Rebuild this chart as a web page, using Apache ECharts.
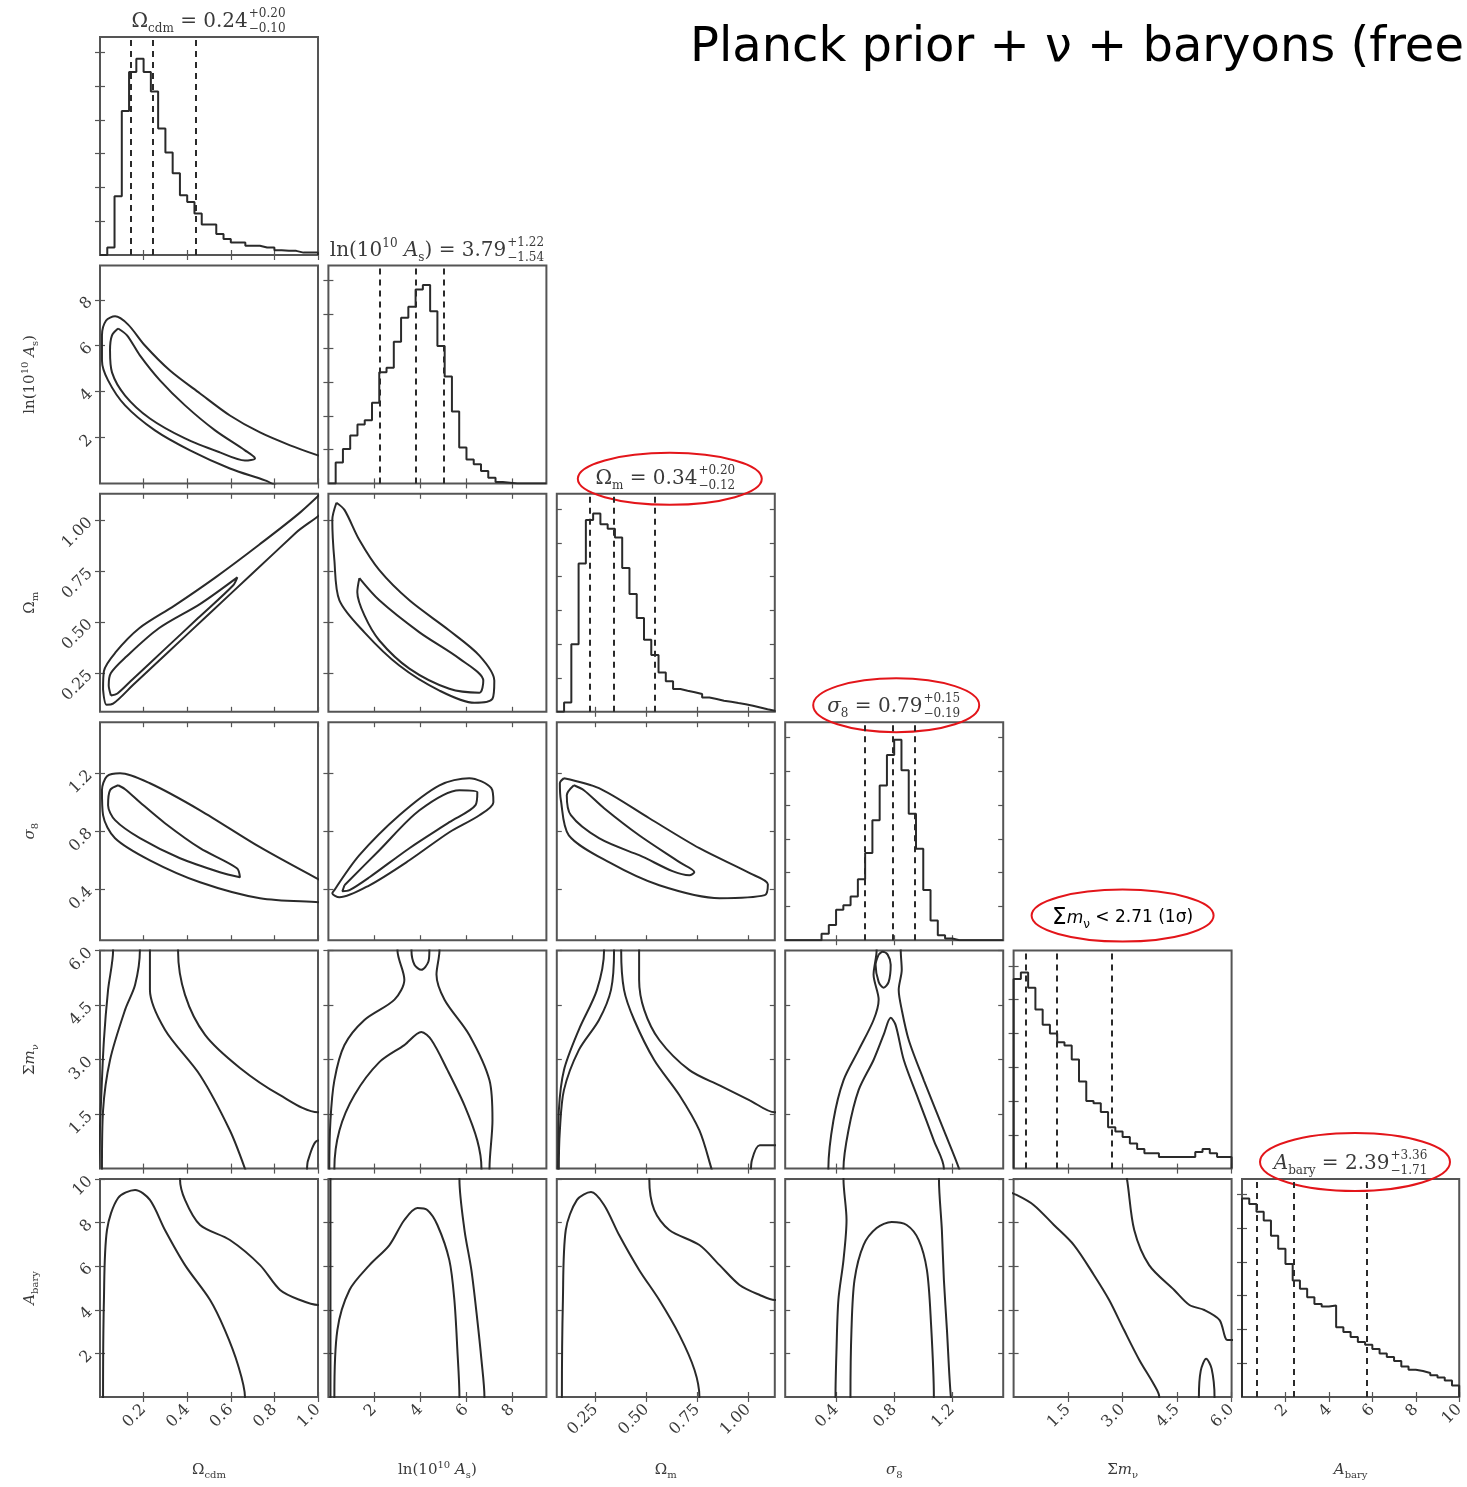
<!DOCTYPE html>
<html>
<head>
<meta charset="utf-8">
<script src="https://cdn.jsdelivr.net/npm/echarts@6/dist/echarts.min.js"></script>
<style>
  html, body { margin: 0; padding: 0; background: #fff; }
  #chart { width: 1467px; height: 1487px; }
</style>
</head>
<body>
<div id="chart"></div>
<script>
// ---------- parameters, axis ranges and ticks ----------
const axisNames = [
  '{a|Ω}{s|cdm}',
  '{a|ln(10}{p|10}{i| A}{s|s}{a|)}',
  '{a|Ω}{s|m}',
  '{i|σ}{s|8}',
  '{a|Σ}{i|m}{s|ν}',
  '{i|A}{s|bary}'
];
const axisMin = [0, 0, 0.06, 0.05, 0, 0];
const axisMax = [1.0, 9.5, 1.13, 1.55, 6.0, 10];
const tickValues = [
  [0.2, 0.4, 0.6, 0.8, 1.0],
  [2, 4, 6, 8],
  [0.25, 0.5, 0.75, 1.0],
  [0.4, 0.8, 1.2],
  [1.5, 3.0, 4.5, 6.0],
  [2, 4, 6, 8, 10]
];
const tickLabels = [
  ['0.2', '0.4', '0.6', '0.8', '1.0'],
  ['2', '4', '6', '8'],
  ['0.25', '0.50', '0.75', '1.00'],
  ['0.4', '0.8', '1.2'],
  ['1.5', '3.0', '4.5', '6.0'],
  ['2', '4', '6', '8', '10']
];
const histTickValues = [15.5, 31, 46.5, 62, 77.5, 93];

// ---------- 1D marginal histograms (30 bins across each axis range) ----------
const histOmegaCdm = [0, 3.4, 27, 66, 84, 90, 84, 75, 58, 47, 37.5, 27.4, 24.3, 19, 14, 14, 9.6, 7.3, 5.7, 5.7, 4.2, 4.2, 3.4, 3.4, 2.2, 1.9, 1.9, 1.1, 1.1, 1.1];
const histLnAs = [0, 9.6, 15.8, 22, 27, 29, 37, 51, 53, 65, 76, 81, 89, 91, 79, 63, 49, 33, 16.5, 11, 8.8, 5.7, 2.6, 0.6, 0.3, 0, 0, 0, 0, 0];
const histOmegaM = [0, 4.3, 31, 68, 88, 91, 86, 84, 80, 66, 54, 43, 33, 26, 18, 14, 10.5, 9.7, 9, 8.2, 6.6, 5.9, 5.1, 4.6, 4, 3.5, 2.8, 2, 1.2, 0.5];
const histSigma8 = [0, 0, 0, 0, 0, 3, 7, 14, 16, 20, 28, 40, 55, 71, 85, 92, 78, 58, 42, 23, 9, 2.3, 0.8, 0, 0, 0, 0, 0, 0, 0];
const histMnu = [87, 90, 83, 73, 66, 62, 58, 56.5, 50, 40, 31, 30, 26, 19, 17, 14.5, 11.5, 9, 7, 7, 5.3, 5.3, 5.3, 5.3, 5.3, 7.6, 9, 7, 5.3, 5.3];
const histAbary = [91, 88.5, 85, 81, 74, 68, 61, 53.4, 49.6, 45.8, 42.7, 41.5, 42, 32, 29.8, 27.5, 25.2, 24, 22, 20, 18.3, 16.5, 14, 12.5, 11.9, 11, 10, 8.9, 7.6, 5.3];
const histograms = [histOmegaCdm, histLnAs, histOmegaM, histSigma8, histMnu, histAbary];

// 16th / 50th / 84th percentiles
const quantOmegaCdm = [0.14, 0.24, 0.44];
const quantLnAs = [2.25, 3.79, 5.01];
const quantOmegaM = [0.22, 0.34, 0.54];
const quantSigma8 = [0.60, 0.79, 0.94];
const quantMnu = [0.34, 1.20, 2.71];
const quantAbary = [0.68, 2.39, 5.75];
const quantiles = [quantOmegaCdm, quantLnAs, quantOmegaM, quantSigma8, quantMnu, quantAbary];

// ---------- 2D credible contours (1σ inner, 2σ outer), in parameter units ----------
const c10Outer = [[1.0,1.22],[0.872,1.66],[0.734,2.22],[0.596,2.96],[0.459,3.92],[0.321,4.92],[0.206,6.01],[0.128,6.93],[0.069,7.28],[0.028,7.10],[0.009,6.45],[0.009,5.36],[0.037,4.49],[0.115,3.40],[0.252,2.31],[0.413,1.44],[0.596,0.65],[0.757,0.13],[0.872,-0.3],[1.1,-0.3],[1.1,1.1]];
const c10Inner = [[0.083,6.75],[0.055,6.45],[0.046,5.80],[0.055,4.84],[0.115,3.83],[0.229,2.83],[0.390,1.96],[0.550,1.35],[0.665,1.00],[0.711,1.09],[0.665,1.44],[0.528,2.31],[0.390,3.40],[0.275,4.49],[0.183,5.58],[0.124,6.45]];

const c20Outer = [[0.014,0.17],[0.018,0.26],[0.07,0.35],[0.18,0.47],[0.34,0.58],[0.53,0.72],[0.73,0.88],[0.92,1.04],[1.05,1.17],[1.05,1.09],[0.9,0.94],[0.7,0.74],[0.5,0.54],[0.3,0.34],[0.15,0.19],[0.06,0.10],[0.03,0.095]];
const c20Inner = [[0.05,0.14],[0.04,0.19],[0.05,0.25],[0.12,0.33],[0.27,0.47],[0.46,0.59],[0.63,0.72],[0.61,0.68],[0.45,0.52],[0.3,0.37],[0.15,0.22],[0.08,0.15]];

const c21Outer = [[0.35,1.086],[0.70,1.051],[1.35,0.903],[2.22,0.755],[3.53,0.607],[5.27,0.459],[6.58,0.336],[7.23,0.213],[7.15,0.124],[6.36,0.104],[4.84,0.164],[3.09,0.287],[1.57,0.450],[0.48,0.607],[0.26,0.805],[0.17,1.002]];
const c21Inner = [[1.35,0.716],[2.22,0.607],[3.97,0.450],[5.71,0.321],[6.75,0.213],[6.58,0.154],[5.27,0.173],[3.53,0.272],[2.22,0.410],[1.57,0.533],[1.26,0.647]];

const c30Outer = [[1.01,0.463],[0.734,0.690],[0.459,0.944],[0.229,1.130],[0.092,1.199],[0.032,1.178],[0.009,1.082],[0.014,0.910],[0.069,0.752],[0.229,0.600],[0.459,0.449],[0.734,0.339],[1.01,0.311],[1.1,0.3],[1.1,0.47]];
const c30Inner = [[0.083,1.116],[0.046,1.082],[0.037,0.979],[0.069,0.876],[0.183,0.752],[0.367,0.614],[0.550,0.518],[0.642,0.483],[0.628,0.545],[0.459,0.683],[0.298,0.855],[0.183,0.999],[0.115,1.089]];

const c31Outer = [[0.26,0.394],[1.35,0.635],[3.09,0.910],[4.84,1.116],[6.14,1.165],[7.10,1.096],[7.19,1.000],[6.58,0.910],[5.27,0.793],[3.53,0.600],[1.79,0.428],[0.48,0.346],[0.17,0.373]];
const c31Inner = [[0.70,0.428],[2.22,0.669],[3.97,0.944],[5.71,1.082],[6.49,1.068],[6.41,0.979],[5.27,0.862],[3.53,0.683],[1.79,0.483],[0.92,0.394],[0.61,0.387]];

const c32Outer = [[0.095,1.165],[0.267,1.096],[0.514,0.889],[0.760,0.683],[1.007,0.511],[1.096,0.435],[1.081,0.360],[0.859,0.339],[0.563,0.428],[0.316,0.587],[0.119,0.772],[0.080,1.013],[0.075,1.130]];
const c32Inner = [[0.144,1.116],[0.109,1.048],[0.129,0.910],[0.267,0.752],[0.464,0.635],[0.711,0.497],[0.735,0.518],[0.662,0.587],[0.464,0.772],[0.292,0.958],[0.193,1.082]];

const c40Outer = [[0.06,6.3],[0.06,6.0],[0.037,4.92],[0.018,3.54],[0.005,1.88],[-0.01,-0.3],[0.94,-0.3],[0.954,0.22],[1.0,0.77],[1.06,0.77],[1.06,1.55],[1.0,1.55],[0.826,2.02],[0.642,2.77],[0.482,3.68],[0.390,4.78],[0.358,6.0],[0.358,6.3]];
const c40Inner = [[0.183,6.3],[0.183,6.0],[0.161,5.06],[0.115,4.37],[0.046,2.99],[0.014,1.60],[0.009,0],[0.009,-0.33],[0.679,-0.33],[0.665,0],[0.596,1.05],[0.459,2.57],[0.298,3.82],[0.229,4.92],[0.229,6.0],[0.229,6.3]];

const c41Outer = [[3.01,6.3],[3.01,6.0],[3.31,5.20],[2.88,4.65],[1.57,4.09],[0.70,3.40],[0.26,2.43],[0.09,1.33],[0.04,0],[0.04,-0.33],[7.02,-0.33],[7.02,0],[7.15,1.33],[7.02,2.43],[6.14,3.68],[5.06,4.65],[4.71,5.34],[4.84,6.0],[4.84,6.3]];
const c41Island = [[3.62,6.3],[3.62,6.0],[3.75,5.61],[4.05,5.47],[4.36,5.70],[4.40,6.0],[4.40,6.3]];
const c41Inner = [[0.26,-0.33],[0.26,0],[0.48,1.05],[1.13,2.02],[2.22,2.93],[3.31,3.40],[4.05,3.76],[4.49,3.54],[5.19,2.71],[5.93,1.74],[6.49,0.77],[6.67,0],[6.67,-0.33]];

const c42Outer = [[0.292,6.3],[0.292,6.0],[0.257,4.92],[0.168,3.82],[0.095,2.71],[0.070,1.60],[0.065,0],[0.055,-0.33],[1.007,-0.33],[1.017,0.22],[1.056,0.64],[1.155,0.64],[1.155,1.55],[1.130,1.55],[1.007,1.88],[0.859,2.29],[0.711,2.71],[0.563,3.54],[0.489,4.37],[0.464,5.20],[0.464,6.0],[0.464,6.3]];
const c42Inner = [[0.341,6.3],[0.341,6.0],[0.326,4.92],[0.267,4.09],[0.168,3.26],[0.095,2.16],[0.075,1.05],[0.070,0],[0.070,-0.33],[0.834,-0.33],[0.819,0],[0.760,1.05],[0.662,2.02],[0.538,2.99],[0.440,4.09],[0.390,4.92],[0.376,6.0],[0.376,6.3]];

const c43Outer = [[0.679,6.3],[0.679,6.0],[0.658,5.34],[0.693,4.65],[0.658,4.09],[0.555,3.26],[0.451,2.43],[0.382,1.33],[0.347,0],[0.347,-0.33],[1.260,-0.33],[1.246,0],[1.142,1.05],[1.004,2.43],[0.900,3.54],[0.852,4.37],[0.831,4.92],[0.852,5.47],[0.845,6.0],[0.845,6.3]];
const c43Island = [[0.693,5.89],[0.672,5.61],[0.693,5.14],[0.727,4.98],[0.762,5.14],[0.776,5.61],[0.755,5.89],[0.720,5.97]];
const c43Inner = [[0.451,-0.33],[0.451,0],[0.485,1.05],[0.555,2.16],[0.658,2.99],[0.727,3.68],[0.776,4.15],[0.810,3.95],[0.866,2.99],[0.969,1.88],[1.073,0.77],[1.142,0],[1.142,-0.33]];

const c50Outer = [[-0.023,10.41],[0.367,10.41],[0.367,10.0],[0.390,9.04],[0.459,7.89],[0.596,7.20],[0.734,6.05],[0.826,4.91],[0.917,4.45],[1.0,4.22],[1.055,4.22],[1.055,-0.6],[-0.023,-0.6]];
const c50Inner = [[0.014,-0.6],[0.014,0],[0.018,4.45],[0.032,7.66],[0.083,9.13],[0.161,9.50],[0.229,9.04],[0.298,7.66],[0.390,6.05],[0.505,4.45],[0.573,3.07],[0.633,1.47],[0.665,0],[0.665,-0.6]];

const c51Outer = [[0.09,10.41],[5.71,10.41],[5.71,10.0],[5.93,7.66],[6.23,5.83],[6.49,3.53],[6.67,1.70],[6.80,0],[6.80,-0.6],[0.09,-0.6]];
const c51Inner = [[0.26,-0.6],[0.26,0],[0.39,3.07],[0.92,4.91],[1.79,6.05],[2.66,6.97],[3.31,8.12],[3.88,8.67],[4.31,8.58],[4.75,7.89],[5.27,6.28],[5.49,4.45],[5.62,2.16],[5.71,0],[5.71,-0.6]];

const c52Outer = [[0.045,10.41],[0.514,10.41],[0.514,10.0],[0.538,8.58],[0.612,7.66],[0.760,6.97],[0.859,6.05],[0.957,5.14],[1.056,4.68],[1.130,4.45],[1.204,4.45],[1.204,-0.6],[0.045,-0.6]];
const c52Inner = [[0.085,-0.6],[0.085,0],[0.090,4.45],[0.104,7.66],[0.159,9.04],[0.228,9.40],[0.292,8.81],[0.366,7.43],[0.464,5.83],[0.563,4.45],[0.662,2.84],[0.736,1.24],[0.760,0],[0.760,-0.6]];

const c53Outer = [[0.451,10.41],[0.451,10.0],[0.472,8.12],[0.451,6.28],[0.416,4.45],[0.403,2.16],[0.396,0],[0.396,-0.6],[1.211,-0.6],[1.190,0],[1.163,3.07],[1.142,5.37],[1.128,7.66],[1.108,10.0],[1.108,10.41]];
const c53Inner = [[0.499,-0.6],[0.499,0],[0.506,3.07],[0.527,5.37],[0.589,6.97],[0.679,7.75],[0.783,8.03],[0.886,7.89],[0.969,7.20],[1.025,5.83],[1.052,3.53],[1.073,0],[1.073,-0.6]];

const c54Outer = [[-0.28,10.41],[3.04,10.41],[3.12,10.0],[3.32,7.66],[3.73,6.05],[4.42,4.91],[4.84,4.22],[5.25,3.99],[5.67,3.53],[5.89,2.61],[6.22,2.61],[6.22,-0.6],[-0.28,-0.6]];
const c54Island = [[5.10,-0.6],[5.10,0],[5.15,1.2],[5.30,1.75],[5.45,1.3],[5.53,0],[5.53,-0.6]];
const c54Inner = [[-0.28,9.50],[0.08,9.27],[0.55,8.81],[1.11,7.89],[1.66,6.97],[2.21,5.60],[2.63,4.45],[3.04,3.07],[3.46,1.70],[3.87,0.55],[4.01,0],[4.01,-0.6],[-0.28,-0.6]];

const contours = {
  '1-0': [c10Outer, c10Inner],
  '2-0': [c20Outer, c20Inner],
  '2-1': [c21Outer, c21Inner],
  '3-0': [c30Outer, c30Inner],
  '3-1': [c31Outer, c31Inner],
  '3-2': [c32Outer, c32Inner],
  '4-0': [c40Outer, c40Inner],
  '4-1': [c41Outer, c41Island, c41Inner],
  '4-2': [c42Outer, c42Inner],
  '4-3': [c43Outer, c43Island, c43Inner],
  '5-0': [c50Outer, c50Inner],
  '5-1': [c51Outer, c51Inner],
  '5-2': [c52Outer, c52Inner],
  '5-3': [c53Outer, c53Inner],
  '5-4': [c54Outer, c54Island, c54Inner]
};

// ---------- panel titles ----------
const diagTitles = [
  { parts: [['Ω', 'n'], ['cdm', 'b'], [' = 0.24', 'n']], up: '+0.20', lo: '−0.10' },
  { parts: [['ln(10', 'n'], ['10', 't'], [' ', 'n'], ['A', 'i'], ['s', 'b'], [') = 3.79', 'n']], up: '+1.22', lo: '−1.54' },
  { parts: [['Ω', 'n'], ['m', 'b'], [' = 0.34', 'n']], up: '+0.20', lo: '−0.12' },
  { parts: [['σ', 'i'], ['8', 'b'], [' = 0.79', 'n']], up: '+0.15', lo: '−0.19' },
  { parts: [['Σ', 'S'], ['m', 'I'], ['ν', 'B'], [' < 2.71 (1σ)', 'N']], up: null, lo: null },
  { parts: [['A', 'i'], ['bary', 'b'], [' = 2.39', 'n']], up: '+3.36', lo: '−1.71' }
];
const mainTitle = 'Planck prior + ν + baryons (free';

// ---------- layout and styles ----------
const LEFT0 = 100, TOP0 = 37, STEP = 228.4, SIZE = 218;
const SERIF = '"DejaVu Serif", serif';
const SANS = '"DejaVu Sans", sans-serif';
const INK = '#2a2a2a';
const TEXT = '#3a3a3a';
const FRAME = '#555';

const tokenStyle = {
  n: { family: SERIF, size: 20, italic: false, dy: 0, color: TEXT },
  i: { family: SERIF, size: 20, italic: true, dy: 0, color: TEXT },
  b: { family: SERIF, size: 12, italic: false, dy: 7, color: TEXT },
  t: { family: SERIF, size: 12, italic: false, dy: -7, color: TEXT },
  N: { family: SANS, size: 17, italic: false, dy: 0, color: '#000' },
  S: { family: SANS, size: 23, italic: false, dy: 0, color: '#000' },
  I: { family: SANS, size: 17, italic: true, dy: 1, color: '#000' },
  B: { family: SANS, size: 12, italic: false, dy: 7, color: '#000' }
};
const scriptStyle = { family: SERIF, size: 12, color: TEXT, upDy: -8, loDy: 7 };

const richName = {
  a: { fontFamily: SERIF, fontSize: 15, color: TEXT, lineHeight: 20 },
  i: { fontFamily: SERIF, fontSize: 15, fontStyle: 'italic', color: TEXT, lineHeight: 20 },
  s: { fontFamily: SERIF, fontSize: 10, color: TEXT, verticalAlign: 'bottom', lineHeight: 12 },
  p: { fontFamily: SERIF, fontSize: 10, color: TEXT, verticalAlign: 'top', lineHeight: 12 }
};

const measureCtx = document.createElement('canvas').getContext('2d');
function fontOf(st) {
  return (st.italic ? 'italic ' : '') + st.size + 'px ' + st.family;
}
function textWidth(text, st) {
  measureCtx.font = fontOf(st);
  return measureCtx.measureText(text).width;
}

function tickFormatter(p) {
  return function (v) {
    const idx = tickValues[p].findIndex(t => Math.abs(t - v) < 1e-9);
    return idx >= 0 ? tickLabels[p][idx] : '';
  };
}

function valueAxis(p, position, gridIndex, showLabels, isX) {
  const ax = {
    type: 'value', gridIndex, position,
    min: axisMin[p], max: axisMax[p],
    axisLine: { show: false },
    splitLine: { show: false },
    axisTick: { show: true, inside: true, length: 5, customValues: tickValues[p], lineStyle: { color: FRAME, width: 1.2 } },
    axisLabel: {
      show: showLabels, customValues: tickValues[p], rotate: 45, margin: 10,
      formatter: tickFormatter(p),
      fontFamily: SERIF, fontSize: 16, color: TEXT
    }
  };
  if (showLabels) {
    ax.name = axisNames[p];
    ax.nameLocation = 'middle';
    ax.nameGap = isX ? 63 : 60;
    ax.nameTextStyle = { rich: richName };
    if (!isX) ax.nameRotate = 90;
  }
  return ax;
}
function histAxis(position, gridIndex) {
  return {
    type: 'value', gridIndex, position, min: 0, max: 100,
    axisLine: { show: false }, splitLine: { show: false },
    axisTick: { show: true, inside: true, length: 5, customValues: histTickValues, lineStyle: { color: FRAME, width: 1.2 } },
    axisLabel: { show: false }
  };
}

function histSteps(p) {
  const counts = histograms[p];
  const n = counts.length;
  const w = (axisMax[p] - axisMin[p]) / n;
  const pts = [[axisMin[p], 0]];
  counts.forEach((c, k) => {
    pts.push([axisMin[p] + k * w, c]);
    pts.push([axisMin[p] + (k + 1) * w, c]);
  });
  pts.push([axisMax[p], 0]);
  return pts;
}

const grids = [], xAxes = [], yAxes = [], series = [], graphics = [];
let g = 0;
for (let i = 0; i < 6; i++) {
  for (let j = 0; j <= i; j++) {
    const left = LEFT0 + STEP * j, top = TOP0 + STEP * i;
    grids.push({ left, top, width: SIZE, height: SIZE, show: true, borderColor: FRAME, borderWidth: 2, backgroundColor: 'transparent' });
    const diag = i === j;
    xAxes.push(valueAxis(j, 'bottom', g, i === 5, true));
    xAxes.push(valueAxis(j, 'top', g, false, true));
    if (diag) {
      yAxes.push(histAxis('left', g));
      yAxes.push(histAxis('right', g));
    } else {
      yAxes.push(valueAxis(i, 'left', g, j === 0, false));
      yAxes.push(valueAxis(i, 'right', g, false, false));
    }
    const xi = 2 * g, yi = 2 * g;
    if (diag) {
      series.push({
        type: 'line', xAxisIndex: xi, yAxisIndex: yi, data: histSteps(i),
        symbol: 'none', silent: true, lineStyle: { color: INK, width: 2 },
        markLine: {
          silent: true, symbol: ['none', 'none'], label: { show: false },
          lineStyle: { color: INK, width: 2, type: [6, 5] },
          data: quantiles[i].map(v => ({ xAxis: v }))
        }
      });
    } else {
      (contours[i + '-' + j] || []).forEach(c => {
        series.push({
          type: 'line', xAxisIndex: xi, yAxisIndex: yi, data: c.concat([c[0]]),
          symbol: 'none', silent: true, smooth: 0.3, clip: true,
          lineStyle: { color: INK, width: 2 }
        });
      });
    }
    g++;
  }
}

// diagonal titles, centred above each marginal panel
diagTitles.forEach((t, p) => {
  const cx = LEFT0 + STEP * p + SIZE / 2;
  const cy = TOP0 + STEP * p - (p === 4 ? 33 : 15);
  const scriptFont = { family: scriptStyle.family, size: scriptStyle.size, italic: false };
  let total = 0;
  t.parts.forEach(([txt, s]) => { total += textWidth(txt, tokenStyle[s]); });
  let sw = 0;
  if (t.up) sw = Math.max(textWidth(t.up, scriptFont), textWidth(t.lo, scriptFont)) + 2;
  total += sw;
  let x = cx - total / 2;
  t.parts.forEach(([txt, s]) => {
    const st = tokenStyle[s];
    graphics.push({
      type: 'text', x, y: cy + st.dy, silent: true,
      style: { text: txt, font: fontOf(st), fill: st.color, textAlign: 'left', textVerticalAlign: 'middle', align: 'left', verticalAlign: 'middle' }
    });
    x += textWidth(txt, st);
  });
  if (t.up) {
    [[t.up, scriptStyle.upDy], [t.lo, scriptStyle.loDy]].forEach(([txt, dy]) => {
      graphics.push({
        type: 'text', x: x + 1, y: cy + dy, silent: true,
        style: { text: txt, font: fontOf(scriptFont), fill: scriptStyle.color, textAlign: 'left', textVerticalAlign: 'middle', align: 'left', verticalAlign: 'middle' }
      });
    });
  }
});

// red highlight rings around four of the summaries
const rings = [
  { p: 2, dx: 113, dy: -15, rx: 92, ry: 26 },
  { p: 3, dx: 111, dy: -17, rx: 83, ry: 27 },
  { p: 4, dx: 109, dy: -35, rx: 91, ry: 26 },
  { p: 5, dx: 113, dy: -17, rx: 95, ry: 29 }
];
rings.forEach(r => {
  graphics.push({
    type: 'ellipse', silent: true,
    shape: { cx: LEFT0 + STEP * r.p + r.dx, cy: TOP0 + STEP * r.p + r.dy, rx: r.rx, ry: r.ry },
    style: { fill: 'none', stroke: '#e3151a', lineWidth: 2 }
  });
});

graphics.push({
  type: 'text', x: 690, y: 49, silent: true,
  style: { text: mainTitle, font: '48px ' + SANS, fill: '#000', textAlign: 'left', textVerticalAlign: 'middle', align: 'left', verticalAlign: 'middle' }
});

const chart = echarts.init(document.getElementById('chart'), null, { renderer: 'canvas' });
chart.setOption({
  animation: false,
  backgroundColor: '#fff',
  grid: grids,
  xAxis: xAxes,
  yAxis: yAxes,
  series,
  graphic: graphics
});
</script>
</body>
</html>
